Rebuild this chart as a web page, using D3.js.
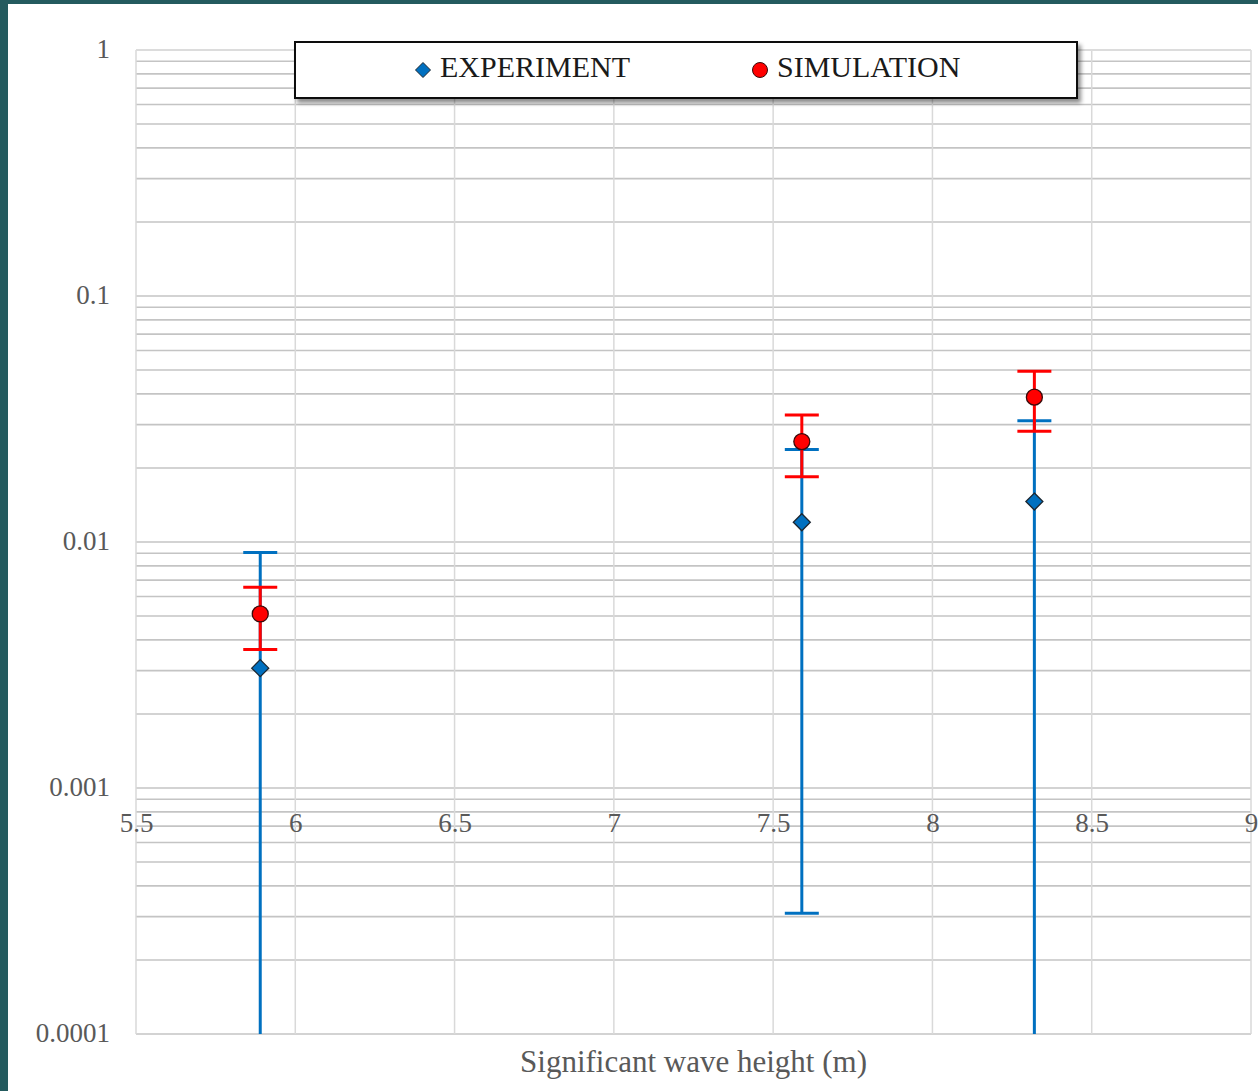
<!DOCTYPE html>
<html>
<head>
<meta charset="utf-8">
<script src="https://cdn.jsdelivr.net/npm/d3@7"></script>
<style>
  html, body { margin: 0; padding: 0; background: #245b5f; }
  svg { display: block; }
  text { font-family: "Liberation Serif", "DejaVu Serif", serif; }
</style>
</head>
<body>
<script>
// Significant wave height (m) for each measured sea state
const waveHeight = [5.89, 7.59, 8.32];

// Experiment: mean value and symmetric error
const experiment = [0.00307, 0.01203, 0.0146];
const experimentErr = [0.0060, 0.01172, 0.0165];

// Simulation: mean value and symmetric error
const simulation = [0.0051, 0.0256, 0.0388];
const simulationErr = [0.00144, 0.0072, 0.0106];

// Axis ticks
const xTicks = [5.5, 6, 6.5, 7, 7.5, 8, 8.5, 9];
const yTicks = [1, 0.1, 0.01, 0.001, 0.0001];
const yTickLabels = ["1", "0.1", "0.01", "0.001", "0.0001"];

const seriesNames = ["EXPERIMENT", "SIMULATION"];
const seriesColors = { bar: ["#0070c0", "#ff0000"], fill: ["#0070c0", "#ff0000"] };

const W = 1258, H = 1091;
const plot = { left: 136, right: 1251, top: 50, bottom: 1034 };

const svg = d3.select("body").append("svg").attr("width", W).attr("height", H);

// white page panel over the dark frame
svg.append("rect").attr("x", 8).attr("y", 4).attr("width", W - 8).attr("height", H - 4).attr("fill", "#ffffff");

const defs = svg.append("defs");
defs.append("clipPath").attr("id", "plotClip")
  .append("rect").attr("x", plot.left).attr("y", plot.top)
  .attr("width", plot.right - plot.left).attr("height", plot.bottom - plot.top);
const shadow = defs.append("filter").attr("id", "legendShadow")
  .attr("x", "-5%").attr("y", "-30%").attr("width", "115%").attr("height", "170%");
shadow.append("feDropShadow").attr("dx", 3).attr("dy", 4).attr("stdDeviation", 2)
  .attr("flood-color", "#000").attr("flood-opacity", 0.45);

const x = d3.scaleLinear().domain([5.5, 9]).range([plot.left, plot.right]);
const y = d3.scaleLog().domain([0.0001, 1]).range([plot.bottom, plot.top]);

// horizontal gridlines: every 1..9 multiple of each decade
const grid = svg.append("g");
grid.selectAll("line.h").data(y.ticks()).join("line")
  .attr("class", "h")
  .attr("x1", plot.left).attr("x2", plot.right)
  .attr("y1", d => y(d)).attr("y2", d => y(d))
  .attr("stroke", "#c4c4c4").attr("stroke-width", 1.6);

// vertical gridlines
grid.selectAll("line.v").data(xTicks).join("line")
  .attr("class", "v")
  .attr("x1", d => x(d)).attr("x2", d => x(d))
  .attr("y1", plot.top).attr("y2", plot.bottom)
  .attr("stroke", "#d9d9d9").attr("stroke-width", 1.5);

// top border is lighter
grid.append("line")
  .attr("x1", plot.left).attr("x2", plot.right)
  .attr("y1", plot.top).attr("y2", plot.top)
  .attr("stroke", "#dcdcdc").attr("stroke-width", 2);

// y axis labels
const yAxis = d3.axisLeft(y).tickValues(yTicks)
  .tickFormat((d, i) => yTickLabels[i]).tickSize(0).tickPadding(26);
const yg = svg.append("g").attr("transform", `translate(${plot.left},0)`).call(yAxis);
yg.select(".domain").remove();
yg.selectAll("text").attr("font-family", "Liberation Serif").attr("font-size", 27)
  .attr("fill", "#595959").attr("dy", "0.28em");

// x axis labels, crossing at 0.001
const xAxis = d3.axisBottom(x).tickValues(xTicks).tickFormat(d => String(d))
  .tickSize(0).tickPadding(25);
const xg = svg.append("g").attr("transform", `translate(0,${y(0.001)})`).call(xAxis);
xg.select(".domain").remove();
xg.selectAll("text").attr("font-family", "Liberation Serif").attr("font-size", 27)
  .attr("fill", "#595959");

// axis title
svg.append("text")
  .attr("x", (plot.left + plot.right) / 2).attr("y", 1072)
  .attr("text-anchor", "middle").attr("font-size", 31).attr("fill", "#595959")
  .text("Significant wave height (m)");

// error bars
const capHalf = 17;
function drawErrorBars(vals, errs, color) {
  const g = svg.append("g").attr("clip-path", "url(#plotClip)");
  vals.forEach((v, i) => {
    const cx = x(waveHeight[i]);
    const hi = v + errs[i];
    const lo = v - errs[i];
    const yHi = y(hi);
    const yLo = lo > y.domain()[0] ? y(lo) : plot.bottom;
    g.append("line").attr("x1", cx).attr("x2", cx).attr("y1", yHi).attr("y2", yLo)
      .attr("stroke", color).attr("stroke-width", 3);
    g.append("line").attr("x1", cx - capHalf).attr("x2", cx + capHalf).attr("y1", yHi).attr("y2", yHi)
      .attr("stroke", color).attr("stroke-width", 3);
    if (lo > y.domain()[0]) {
      g.append("line").attr("x1", cx - capHalf).attr("x2", cx + capHalf).attr("y1", yLo).attr("y2", yLo)
        .attr("stroke", color).attr("stroke-width", 3);
    }
  });
}
drawErrorBars(experiment, experimentErr, seriesColors.bar[0]);
drawErrorBars(simulation, simulationErr, seriesColors.bar[1]);

function diamondPath(s) {
  return `M0,${-s}L${s},0L0,${s}L${-s},0Z`;
}

// experiment markers
svg.append("g").selectAll("path").data(experiment).join("path")
  .attr("d", diamondPath(8.5))
  .attr("transform", (d, i) => `translate(${x(waveHeight[i])},${y(d)})`)
  .attr("fill", seriesColors.fill[0]).attr("stroke", "#1b2630").attr("stroke-width", 1.3);

// simulation markers
svg.append("g").selectAll("circle").data(simulation).join("circle")
  .attr("cx", (d, i) => x(waveHeight[i])).attr("cy", d => y(d)).attr("r", 8)
  .attr("fill", seriesColors.fill[1]).attr("stroke", "#3a0a0a").attr("stroke-width", 1.3);

// legend
const lg = svg.append("g").attr("transform", "translate(295,42)");
lg.append("rect").attr("width", 782).attr("height", 56)
  .attr("fill", "#ffffff").attr("stroke", "#111").attr("stroke-width", 2)
  .attr("filter", "url(#legendShadow)");
lg.append("path").attr("d", diamondPath(7.5))
  .attr("transform", "translate(128,28)")
  .attr("fill", seriesColors.fill[0]).attr("stroke", "#1b2630").attr("stroke-width", 1);
lg.append("text").attr("x", 145).attr("y", 35).attr("font-size", 30).attr("fill", "#1a1a1a")
  .text(seriesNames[0]);
lg.append("circle").attr("cx", 465).attr("cy", 28).attr("r", 7.5)
  .attr("fill", seriesColors.fill[1]).attr("stroke", "#3a0a0a").attr("stroke-width", 1);
lg.append("text").attr("x", 482).attr("y", 35).attr("font-size", 30).attr("fill", "#1a1a1a")
  .text(seriesNames[1]);
</script>
</body>
</html>
